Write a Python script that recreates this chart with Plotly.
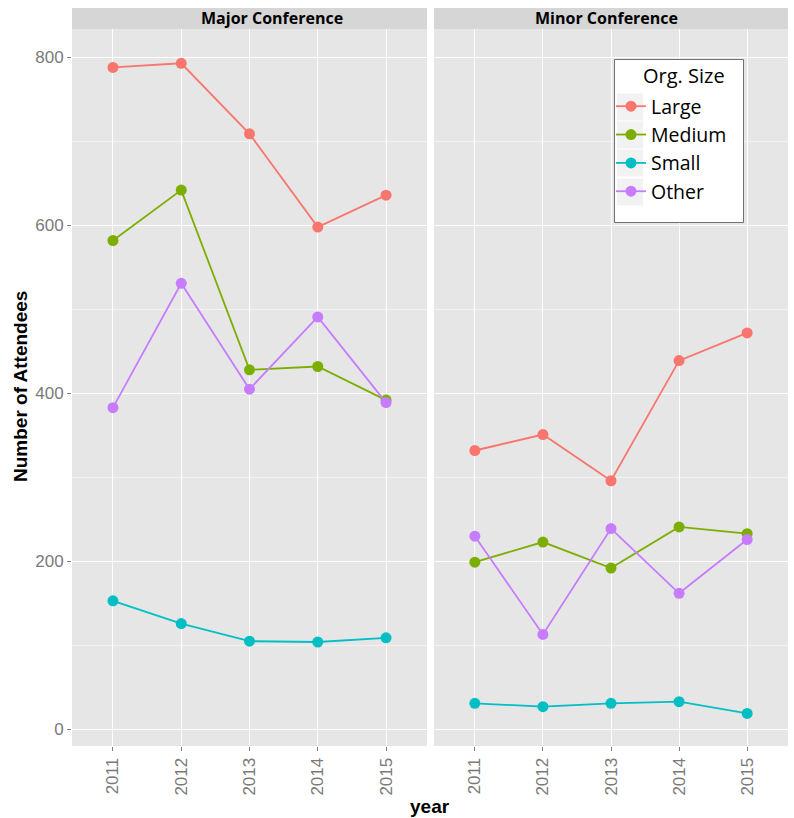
import plotly.graph_objects as go

years = [2011, 2012, 2013, 2014, 2015]
sizes = ["Large", "Medium", "Small", "Other"]
colors = ["#F8766D", "#7CAE00", "#00BFC4", "#C77CFF"]

major_large = [788, 793, 709, 598, 636]
major_medium = [582, 642, 428, 432, 392]
major_small = [153, 126, 105, 104, 109]
major_other = [383, 531, 405, 491, 389]

minor_large = [332, 351, 296, 439, 472]
minor_medium = [199, 223, 192, 241, 233]
minor_small = [31, 27, 31, 33, 19]
minor_other = [230, 113, 239, 162, 226]

panels = ["Major Conference", "Minor Conference"]
legend_title = "Org. Size"
major = [major_large, major_medium, major_small, major_other]
minor = [minor_large, minor_medium, minor_small, minor_other]

y_ticks = [0, 200, 400, 600, 800]

W, H = 794, 818
ML, MR, MT, MB = 72, 6, 8, 72
PW = W - ML - MR
PH = H - MT - MB
strip_h = 21
ytop = 1 - strip_h / PH
x1_end = (427 - ML) / PW
x2_start = (434 - ML) / PW


def px_x(p):
    return (p - ML) / PW


def px_y(p):
    return 1 - (p - MT) / PH


fig = go.Figure()
for i, name in enumerate(sizes):
    fig.add_trace(go.Scatter(x=years, y=major[i], mode="lines+markers", name=name,
                             legendgroup=name, showlegend=True,
                             line=dict(color=colors[i], width=1.8),
                             marker=dict(color=colors[i], size=11),
                             xaxis="x", yaxis="y"))
for i, name in enumerate(sizes):
    fig.add_trace(go.Scatter(x=years, y=minor[i], mode="lines+markers", name=name,
                             legendgroup=name, showlegend=False,
                             line=dict(color=colors[i], width=1.8),
                             marker=dict(color=colors[i], size=11),
                             xaxis="x2", yaxis="y2"))

tick_font = dict(family="Liberation Sans, Arial, sans-serif", size=17, color="#7a7a7a")
xcommon = dict(range=[2010.4, 2015.6], tickvals=years, ticktext=[str(y) for y in years],
               tickangle=-90, showgrid=True, gridcolor="white", gridwidth=1.3,
               zeroline=False, ticks="outside", ticklen=4, tickcolor="#808080",
               tickfont=tick_font, showline=False, automargin=False)
ycommon = dict(range=[-19.8, 833.8], tickvals=y_ticks, showgrid=True, gridcolor="white",
               gridwidth=1.3, zeroline=False, ticklen=4,
               tickcolor="#808080", tickfont=tick_font, automargin=False,
               minor=dict(dtick=100, tick0=0, showgrid=True, gridcolor="#f2f2f2", gridwidth=0.6, ticks=""),
               domain=[0, ytop])

fig.update_layout(
    width=W, height=H,
    margin=dict(l=ML, r=MR, t=MT, b=MB),
    paper_bgcolor="white", plot_bgcolor="#e6e6e6",
    xaxis=dict(domain=[0, x1_end], **xcommon),
    xaxis2=dict(domain=[x2_start, 1], anchor="y2", **xcommon),
    yaxis=dict(anchor="x", ticks="outside", **ycommon),
    yaxis2=dict(anchor="x2", matches="y", showticklabels=False, ticks="", **ycommon),
    showlegend=True,
    legend=dict(x=px_x(611), y=px_y(87), xanchor="left", yanchor="top",
                bgcolor="rgba(0,0,0,0)", borderwidth=0, tracegroupgap=0,
                font=dict(family="Open Sans, sans-serif", size=19.5, color="black"),
                itemwidth=30),
)

# Strips
for x0, x1 in [(0, x1_end), (x2_start, 1)]:
    fig.add_shape(type="rect", xref="paper", yref="paper", x0=x0, x1=x1, y0=ytop, y1=1,
                  fillcolor="#d6d6d6", line=dict(width=0), layer="below")
strip_font = dict(family="Open Sans, sans-serif", size=16, color="black")
fig.add_annotation(text="<b>" + panels[0] + "</b>", xref="paper", yref="paper",
                   x=px_x(272), y=(1 + ytop) / 2, xanchor="center", yanchor="middle",
                   showarrow=False, font=strip_font)
fig.add_annotation(text="<b>" + panels[1] + "</b>", xref="paper", yref="paper",
                   x=px_x(606), y=(1 + ytop) / 2, xanchor="center", yanchor="middle",
                   showarrow=False, font=strip_font)

# Legend box
fig.add_shape(type="rect", xref="paper", yref="paper",
              x0=px_x(614.5), x1=px_x(743.5), y0=px_y(222.5), y1=px_y(59.5),
              fillcolor="white", line=dict(color="#707070", width=1), layer="above")
for cy in [107, 135, 163, 192]:
    fig.add_shape(type="rect", xref="paper", yref="paper",
                  x0=px_x(617), x1=px_x(643), y0=px_y(cy + 13.5), y1=px_y(cy - 13.5),
                  fillcolor="#f2f2f2", line=dict(width=0), layer="above")
fig.add_annotation(text=legend_title, xref="paper", yref="paper",
                   x=px_x(684), y=px_y(75), xanchor="center", yanchor="middle",
                   showarrow=False,
                   font=dict(family="Open Sans, sans-serif", size=20, color="black"))

# Axis titles
title_font = dict(family="Liberation Sans, Arial, sans-serif", size=19, color="black")
fig.add_annotation(text="<b>Number of Attendees</b>", xref="paper", yref="paper",
                   x=0, y=px_y(387), xshift=20 - ML, textangle=-90,
                   xanchor="center", yanchor="middle", showarrow=False, font=title_font)
fig.add_annotation(text="<b>year</b>", xref="paper", yref="paper",
                   x=px_x(430), y=0, yshift=-(806 - (H - MB)),
                   xanchor="center", yanchor="middle", showarrow=False, font=title_font)

fig.write_html("out.html", config={"displayModeBar": False},
               post_script="document.body.style.margin='0px';")
